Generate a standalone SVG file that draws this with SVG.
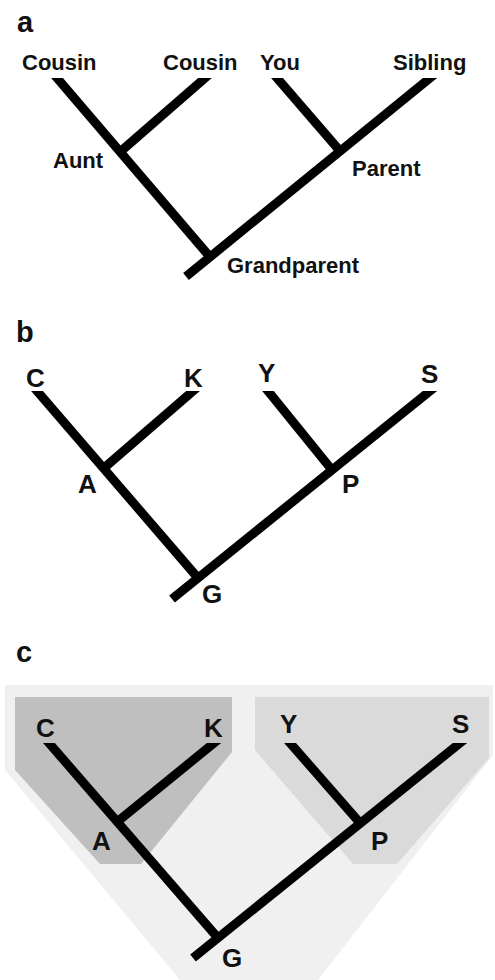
<svg xmlns="http://www.w3.org/2000/svg" width="495" height="980" viewBox="0 0 495 980">
<style>
.br{stroke:#000;stroke-width:9;stroke-linecap:butt;fill:none}
.lbl{font-family:"Liberation Sans",Arial,sans-serif;font-weight:bold;font-size:22px;fill:#111}
.big{font-family:"Liberation Sans",Arial,sans-serif;font-weight:bold;font-size:26px;fill:#111}
.pan{font-family:"Liberation Sans",Arial,sans-serif;font-weight:bold;font-size:29px;fill:#111}
</style>
<defs>
<clipPath id="clipA"><rect x="0" y="78" width="495" height="230"/></clipPath>
<clipPath id="clipB"><rect x="0" y="391" width="495" height="230"/></clipPath>
<clipPath id="clipC"><rect x="0" y="743" width="495" height="237"/></clipPath>
</defs>
<rect x="0" y="0" width="495" height="980" fill="#fff"/>

<g id="panel-labels">
<text class="pan" x="17" y="32">a</text>
<text class="pan" x="16" y="342">b</text>
<text class="pan" x="16" y="662">c</text>
</g>

<g id="shading">
<polygon points="5,685 493,685 493,755 318,980 180,980 5,770" fill="#f0f0f0"/>
<polygon points="15,697 232,697 232,752 141,864 100,864 15,770" fill="#bfbfbf"/>
<polygon points="255,697 489,697 489,758 397,864 353,864 255,750" fill="#dadada"/>
</g>

<g id="connectors">
<g clip-path="url(#clipA)">
<line class="br" x1="48.5" y1="68" x2="210" y2="257"/>
<line class="br" x1="442.3" y1="68" x2="186" y2="276.5"/>
<line class="br" x1="216.5" y1="68" x2="120" y2="152"/>
<line class="br" x1="268.4" y1="68" x2="340" y2="151"/>
</g>
<g clip-path="url(#clipB)">
<line class="br" x1="28.4" y1="381" x2="198" y2="578"/>
<line class="br" x1="442.4" y1="381" x2="172" y2="599"/>
<line class="br" x1="204.6" y1="381" x2="104" y2="468"/>
<line class="br" x1="259.9" y1="381" x2="332" y2="470"/>
</g>
<g clip-path="url(#clipC)">
<line class="br" x1="40.3" y1="733" x2="218" y2="938"/>
<line class="br" x1="472.4" y1="733" x2="193" y2="958"/>
<line class="br" x1="226.3" y1="733" x2="117" y2="822"/>
<line class="br" x1="281.3" y1="733" x2="360" y2="823"/>
</g>
</g>

<g id="a-cousin1"><text class="lbl" x="22" y="70">Cousin</text></g>
<g id="a-cousin2"><text class="lbl" x="163" y="70">Cousin</text></g>
<g id="a-you"><text class="lbl" x="260" y="70">You</text></g>
<g id="a-sibling"><text class="lbl" x="393" y="70">Sibling</text></g>
<g id="a-aunt"><text class="lbl" x="53" y="168">Aunt</text></g>
<g id="a-parent"><text class="lbl" x="352" y="176">Parent</text></g>
<g id="a-grandparent"><text class="lbl" x="227" y="273">Grandparent</text></g>

<g id="b-c"><text class="big" x="26" y="387">C</text></g>
<g id="b-k"><text class="big" x="184" y="387">K</text></g>
<g id="b-y"><text class="big" x="258" y="382">Y</text></g>
<g id="b-s"><text class="big" x="421" y="383">S</text></g>
<g id="b-a"><text class="big" x="78" y="493">A</text></g>
<g id="b-p"><text class="big" x="342" y="493">P</text></g>
<g id="b-g"><text class="big" x="202" y="603">G</text></g>

<g id="c-c"><text class="big" x="36" y="737">C</text></g>
<g id="c-k"><text class="big" x="204" y="737">K</text></g>
<g id="c-y"><text class="big" x="280" y="733">Y</text></g>
<g id="c-s"><text class="big" x="452" y="733">S</text></g>
<g id="c-a"><text class="big" x="92" y="850">A</text></g>
<g id="c-p"><text class="big" x="371" y="850">P</text></g>
<g id="c-g"><text class="big" x="222" y="967">G</text></g>
</svg>
